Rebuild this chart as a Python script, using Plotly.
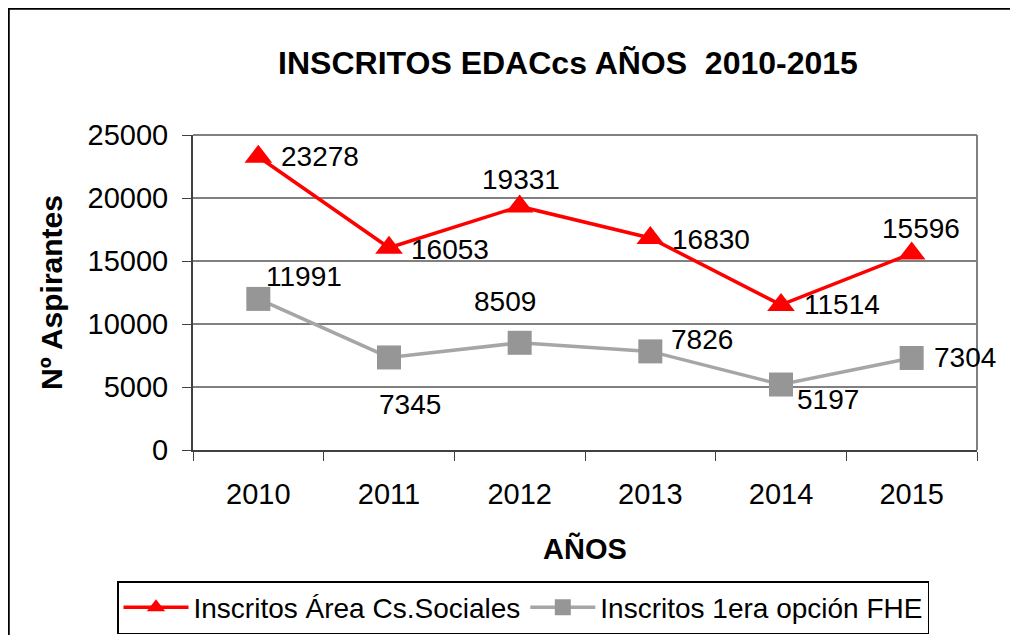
import plotly.graph_objects as go

# datos
anios = ['2010', '2011', '2012', '2013', '2014', '2015']
inscritos_area = [23278, 16053, 19331, 16830, 11514, 15596]
inscritos_fhe = [11991, 7345, 8509, 7826, 5197, 7304]
y_ticks = [0, 5000, 10000, 15000, 20000, 25000]

# posicion de las etiquetas (anchor, desplazamiento x, desplazamiento y en px)
pos_area = [('left', 21, 0), ('left', 20, -2), ('center', 1, 27),
            ('left', 20, -2), ('left', 21, 0), ('center', 9, 25)]
pos_fhe = [('left', 6, 22), ('left', -12, -47), ('center', -15, 41),
           ('left', 19, 12), ('left', 14, -15), ('left', 20, 0)]

FONT = 'Liberation Sans, Arial, sans-serif'

fig = go.Figure()
fig.add_trace(go.Scatter(
    x=anios, y=inscritos_area, name='Inscritos Área Cs.Sociales',
    mode='lines+markers',
    line=dict(color='#FF0000', width=3.5),
    marker=dict(symbol='triangle-up', size=24, color='#FF0000'),
    cliponaxis=False,
))
fig.add_trace(go.Scatter(
    x=anios, y=inscritos_fhe, name='Inscritos 1era opción FHE',
    mode='lines+markers',
    line=dict(color='#A6A6A6', width=3.5),
    marker=dict(symbol='square', size=24, color='#969696'),
    cliponaxis=False,
))

# etiquetas de datos (x como indice de categoria)
for valores, posiciones in [(inscritos_area, pos_area), (inscritos_fhe, pos_fhe)]:
    for i, (v, (anc, dx, dy)) in enumerate(zip(valores, posiciones)):
        fig.add_annotation(x=i, y=v, xref='x', yref='y', text=str(v), showarrow=False,
                           xanchor=anc, yanchor='middle', xshift=dx, yshift=dy,
                           font=dict(size=28, family=FONT, color='black'))

# marco exterior
fig.add_shape(type='rect', xref='paper', yref='paper',
              x0=(0.5 - 185) / 784, x1=1.2, y0=-1, y1=(442 - 0.5) / 315,
              line=dict(color='black', width=2.5), layer='below')

fig.update_layout(
    width=1010, height=627,
    margin=dict(l=185, r=41, t=127, b=185, autoexpand=False),
    paper_bgcolor='white', plot_bgcolor='white',
    font=dict(family=FONT, size=28, color='black'),
    title=dict(text='<b>INSCRITOS EDACcs AÑOS  2010-2015</b>',
               x=560 / 1010, xref='container', xanchor='center',
               y=1 - 55 / 627, yref='container', yanchor='middle',
               font=dict(size=32, family=FONT, color='black')),
    showlegend=True,
    legend=dict(orientation='h', x=(109 - 185) / 784, xref='paper', xanchor='left',
                y=(442 - 573) / 315, yref='paper', yanchor='top',
                bordercolor='black', borderwidth=1.5, bgcolor='white',
                font=dict(size=28, family=FONT, color='black'),
                itemwidth=65),
    xaxis=dict(type='category', range=[-0.5, 5.5], tickson='boundaries', ticks='outside',
               ticklen=9, tickcolor='#404040', linecolor='#404040', linewidth=2,
               showline=True, showgrid=False, mirror=False, tickfont=dict(size=29),
               tickangle=0, ticklabelstandoff=17, automargin=False,
               title=dict(text='<b>AÑOS</b>', font=dict(size=29), standoff=30)),
    yaxis=dict(range=[0, 25000], tickvals=y_ticks, tickformat='d', ticks='outside', ticklen=9,
               tickcolor='#404040', linecolor='#404040', linewidth=2, showline=True,
               showgrid=True, gridcolor='#808080', gridwidth=1.5, zeroline=False,
               tickfont=dict(size=29), ticklabelstandoff=8, automargin=False,
               title=dict(text='<b>Nº Aspirantes</b>', font=dict(size=30), standoff=16)),
)
# borde superior y derecho del area de trazado
fig.add_shape(type='line', xref='paper', yref='paper', x0=0, x1=1, y0=1, y1=1,
              line=dict(color='#808080', width=2))
fig.add_shape(type='line', xref='paper', yref='paper', x0=1, x1=1, y0=0, y1=1,
              line=dict(color='#808080', width=2))

fig.write_html('out.html')
